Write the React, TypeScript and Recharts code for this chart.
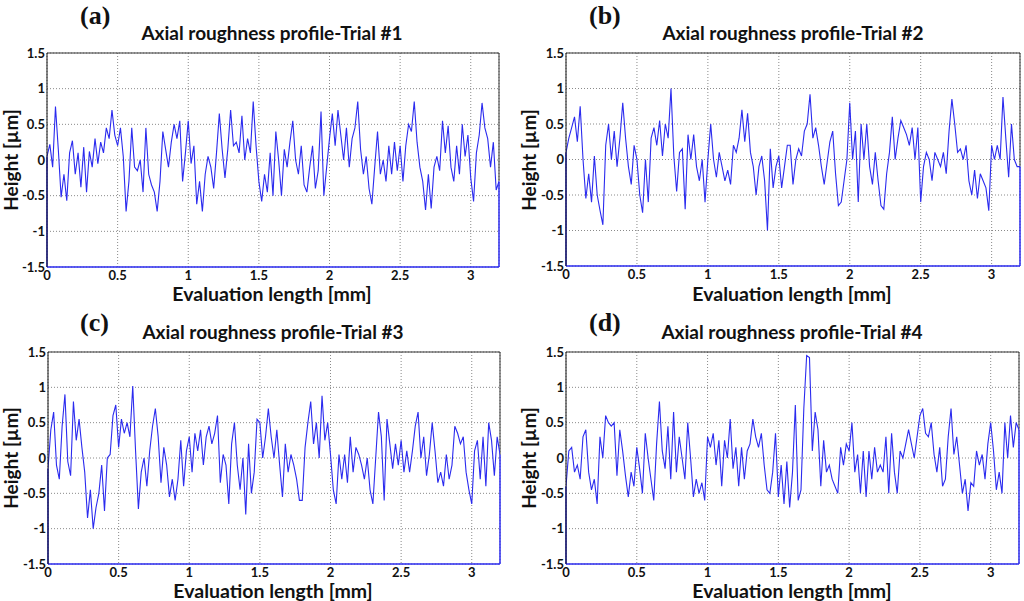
import React from 'react';
import { LineChart, Line, XAxis, YAxis, CartesianGrid, ReferenceLine } from 'recharts';

// ---- data ----
const SAMPLE_STEP_MM = 0.02;
const X_TICKS = [0, 0.5, 1, 1.5, 2, 2.5, 3];
const Y_TICKS = [-1.5, -1, -0.5, 0, 0.5, 1, 1.5];
const X_DOMAIN: [number, number] = [0, 3.2];
const Y_DOMAIN: [number, number] = [-1.5, 1.5];
const PANEL_TAGS = ['(a)', '(b)', '(c)', '(d)'];
const TITLES = [
  'Axial roughness profile-Trial #1',
  'Axial roughness profile-Trial #2',
  'Axial roughness profile-Trial #3',
  'Axial roughness profile-Trial #4',
];
const X_LABEL = 'Evaluation length [mm]';
const Y_LABEL = 'Height [µm]';

const trial1 = [
  0.05, 0.22, -0.1, 0.75, 0.15, -0.52, -0.2, -0.57, 0.1, 0.27,
  -0.2, 0.1, -0.38, 0.18, -0.45, 0.12, -0.1, 0.3, -0.05, 0.25,
  0.1, 0.45, 0.3, 0.7, 0.35, 0.2, 0.45, 0.05, -0.72, -0.3,
  0.45, -0.1, -0.15, 0.0, -0.45, 0.45, -0.2, -0.35, -0.45, -0.72,
  -0.3, 0.4, 0.15, -0.1, 0.25, 0.5, 0.3, 0.55, -0.3, 0.1,
  0.55, -0.05, 0.2, -0.62, -0.3, -0.72, -0.2, 0.05, -0.1, -0.4,
  0.1, 0.65, 0.15, -0.25, 0.15, 0.7, 0.2, 0.25, 0.1, 0.62,
  0.0, 0.3, 0.1, 0.82, 0.2, -0.3, -0.58, -0.2, -0.45, 0.1,
  -0.5, 0.4, 0.0, -0.5, 0.15, -0.1, 0.25, 0.55, 0.0, -0.2,
  0.2, -0.35, -0.45, -0.1, 0.2, -0.4, -0.15, 0.68, -0.5, -0.1,
  0.3, 0.65, 0.2, 0.7, 0.35, 0.0, 0.45, -0.1, 0.3, 0.45,
  0.82, 0.15, -0.2, 0.05, -0.4, -0.62, -0.1, 0.4, -0.2, 0.0,
  -0.3, 0.2, -0.2, 0.25, -0.15, 0.2, -0.3, 0.2, 0.5, 0.4,
  0.82, 0.25, -0.1, -0.3, -0.7, -0.2, -0.68, -0.1, 0.05, -0.15,
  0.55, 0.1, 0.48, -0.1, -0.3, 0.2, -0.2, 0.5, 0.05, 0.35,
  -0.25, -0.58, 0.1, 0.35, 0.8, 0.45, 0.3, -0.1, 0.25, -0.42,
  -0.3,
];

const trial2 = [
  0.1, 0.3, 0.45, 0.6, 0.25, 0.75, 0.0, -0.55, -0.2, -0.6,
  0.05, -0.5, -0.72, -0.92, 0.2, 0.5, 0.0, 0.4, -0.1, 0.3,
  0.8, 0.3, -0.1, -0.35, 0.2, 0.0, -0.5, -0.75, 0.0, -0.6,
  0.3, 0.45, 0.2, 0.55, 0.05, 0.5, 0.3, 1.0, 0.05, -0.45,
  0.1, 0.15, -0.7, 0.35, 0.0, 0.35, -0.1, -0.3, 0.0, -0.6,
  0.0, 0.5, 0.0, -0.25, 0.1, -0.1, -0.3, -0.15, -0.35, 0.2,
  0.1, 0.3, 0.7, 0.25, 0.65, 0.1, -0.1, -0.5, -0.1, 0.05,
  -0.3, -1.0, 0.15, -0.4, -0.1, 0.05, -0.4, -0.1, 0.2, 0.2,
  -0.35, 0.0, 0.15, 0.05, 0.4, 0.5, 0.92, 0.3, 0.45, 0.2,
  -0.1, -0.35, -0.05, 0.25, 0.4, -0.2, -0.65, -0.6, -0.3, 0.0,
  0.8, 0.0, 0.4, -0.6, 0.5, 0.0, 0.5, -0.1, -0.35, 0.1,
  -0.3, -0.65, -0.7, -0.2, 0.1, 0.6, 0.0, 0.3, 0.55, 0.45,
  0.35, 0.2, 0.45, 0.0, 0.45, -0.6, -0.1, 0.1, 0.0, -0.3,
  0.1, 0.0, -0.1, 0.1, -0.2, 0.4, 0.85, 0.5, 0.1, 0.15,
  0.0, 0.2, -0.3, -0.5, -0.15, -0.55, -0.2, -0.3, -0.4, -0.72,
  0.2, 0.0, 0.2, 0.0, 0.88, 0.3, -0.25, 0.5, 0.0, -0.1,
  -0.1,
];

const trial3 = [
  -0.15, 0.4, 0.65, -0.1, -0.3, 0.45, 0.9, -0.05, -0.25, 0.8,
  0.25, 0.55, 0.15, -0.2, -0.85, -0.45, -1.0, -0.7, -0.5, -0.1,
  -0.75, 0.0, 0.05, 0.6, 0.75, 0.15, 0.55, 0.35, 0.5, 0.3,
  1.02, 0.1, -0.72, -0.2, 0.0, -0.4, 0.1, 0.45, 0.7, 0.3,
  -0.35, 0.15, -0.1, -0.55, -0.3, -0.6, -0.3, 0.25, -0.4, 0.1,
  0.3, -0.2, 0.35, 0.1, 0.4, -0.1, 0.3, 0.45, 0.2, 0.35,
  0.6, -0.35, 0.05, -0.1, -0.65, 0.2, 0.5, -0.1, -0.45, 0.0,
  -0.8, 0.2, -0.5, -0.2, 0.55, 0.5, 0.0, 0.3, 0.7, 0.3,
  0.0, 0.4, -0.1, -0.55, 0.2, -0.2, 0.05, -0.1, -0.3, -0.6,
  -0.6, 0.15, 0.5, 0.8, 0.2, 0.5, 0.0, 0.88, 0.25, 0.5,
  0.05, -0.45, -0.65, 0.05, -0.3, 0.05, -0.35, 0.3, -0.2, 0.15,
  0.05, -0.1, -0.3, 0.0, -0.45, -0.65, 0.0, 0.65, 0.3, -0.6,
  0.55, 0.2, -0.15, 0.2, -0.1, 0.25, -0.2, 0.1, -0.2, 0.1,
  0.45, 0.65, 0.0, 0.3, -0.25, 0.05, 0.5, 0.1, -0.35, -0.2,
  -0.4, 0.05, -0.3, -0.1, 0.45, 0.35, 0.2, 0.3, -0.2, -0.45,
  -0.65, 0.1, 0.25, -0.3, 0.3, -0.4, 0.5, 0.25, -0.25, 0.3,
  0.05,
];

const trial4 = [
  -0.4, 0.1, 0.15, -0.2, -0.1, -0.3, 0.3, 0.4, -0.2, -0.45,
  -0.3, -0.65, 0.3, 0.0, 0.6, 0.5, 0.45, 0.5, -0.25, 0.4,
  0.1, -0.25, -0.55, -0.2, -0.4, 0.15, -0.15, -0.5, 0.35, 0.0,
  -0.3, -0.6, 0.2, 0.8, 0.1, -0.15, 0.45, -0.3, 0.65, -0.2,
  0.3, 0.0, -0.3, 0.5, 0.0, -0.55, -0.3, -0.5, -0.35, -0.6,
  0.3, 0.15, 0.35, -0.1, 0.25, -0.4, 0.25, 0.0, 0.55, -0.15,
  0.15, -0.4, 0.15, -0.3, 0.1, 0.2, 0.55, 0.3, 0.15, 0.35,
  -0.1, -0.45, -0.5, -0.2, 0.35, -0.55, -0.1, -0.65, -0.05, -0.7,
  -0.2, 0.75, -0.6, -0.45, 0.7, 1.45, 1.42, 0.1, 0.65, 0.4,
  -0.4, 0.25, -0.2, -0.1, -0.3, -0.4, -0.5, 0.15, -0.1, 0.2,
  0.1, 0.5, -0.2, 0.05, -0.5, 0.1, -0.55, 0.1, -0.3, 0.15,
  -0.2, -0.1, -0.2, 0.3, -0.5, 0.35, -0.2, -0.5, 0.1, 0.0,
  0.2, 0.4, 0.2, 0.0, 0.3, 0.6, 0.7, 0.35, 0.3, 0.5,
  0.05, -0.2, 0.15, -0.4, -0.3, 0.3, 0.7, 0.05, 0.3, -0.1,
  -0.5, -0.3, -0.75, -0.35, -0.4, 0.1, -0.1, 0.05, -0.3, 0.2,
  0.5, 0.1, -0.45, -0.2, -0.5, 0.5, 0.0, 0.6, 0.15, 0.5,
  0.4,
];

const SERIES = [trial1, trial2, trial3, trial4];

// ---- layout (page pixel positions) ----
const LAYOUTS = [
  { x0: 0, y0: 0, l: 47, t: 53, r: 499, b: 267, tag: [80, 2], title: [272, 33], xl: [272, 294], yl: [11, 160] },
  { x0: 512, y0: 0, l: 566, t: 53, r: 1020, b: 266, tag: [589, 2], title: [793, 33], xl: [792, 294], yl: [529, 160] },
  { x0: 0, y0: 300, l: 48, t: 352, r: 500, b: 564, tag: [80, 309], title: [273, 332], xl: [273, 591], yl: [11, 458] },
  { x0: 512, y0: 300, l: 566, t: 352, r: 1019, b: 564, tag: [589, 309], title: [792, 332], xl: [792, 591], yl: [529, 458] },
];

const LINE_COLOR = '#2b2bef';
const SANS = 'Lato, "Open Sans", sans-serif';
const tickStyle = { fill: '#111', fontSize: 13, fontWeight: 700, fontFamily: SANS };

const buildRows = (vals: number[]) =>
  vals.map((h, i) => ({ x: Math.round(i * SAMPLE_STEP_MM * 100) / 100, h }));

function Panel({ idx }: { idx: number }) {
  const L = LAYOUTS[idx];
  const vals = SERIES[idx];
  const data = buildRows(vals);
  const first = vals[0];
  const last = vals[vals.length - 1];
  const W = 512;
  const H = 300;
  const centered: React.CSSProperties = {
    position: 'absolute',
    transform: 'translate(-50%, -50%)',
    whiteSpace: 'nowrap',
    fontFamily: SANS,
    fontWeight: 700,
    color: '#111',
    lineHeight: 0.8,
  };
  return (
    <>
      <div style={{ position: 'absolute', left: L.x0, top: L.y0 }}>
        <LineChart
          width={W}
          height={H}
          data={data}
          margin={{ top: L.t - L.y0, right: L.x0 + W - L.r, left: 0, bottom: 0 }}
        >
          <CartesianGrid stroke="#8a8a8a" strokeDasharray="1 2" />
          <XAxis
            dataKey="x"
            type="number"
            domain={X_DOMAIN}
            ticks={X_TICKS}
            allowDataOverflow
            height={L.y0 + H - L.b}
            tickLine={false}
            tickSize={0}
            tickMargin={4}
            axisLine={{ stroke: LINE_COLOR, strokeWidth: 1.5 }}
            tick={tickStyle}
            interval={0}
          />
          <YAxis
            type="number"
            domain={Y_DOMAIN}
            ticks={Y_TICKS}
            allowDataOverflow
            width={L.l - L.x0}
            tickLine={false}
            tickSize={0}
            tickMargin={2}
            axisLine={{ stroke: '#111', strokeWidth: 1 }}
            tick={tickStyle}
            interval={0}
          />
          <ReferenceLine segment={[{ x: 0, y: 1.5 }, { x: 3.2, y: 1.5 }]} stroke="#333" strokeWidth={1} />
          <ReferenceLine segment={[{ x: 3.2, y: last }, { x: 3.2, y: 1.5 }]} stroke="#333" strokeWidth={1} />
          <ReferenceLine segment={[{ x: 3.2, y: -1.5 }, { x: 3.2, y: last }]} stroke={LINE_COLOR} strokeWidth={1.5} />
          <ReferenceLine segment={[{ x: 0, y: -1.5 }, { x: 0, y: first }]} stroke={LINE_COLOR} strokeWidth={1.5} />
          <Line
            type="linear"
            dataKey="h"
            stroke={LINE_COLOR}
            strokeWidth={1.1}
            dot={false}
            isAnimationActive={false}
          />
        </LineChart>
      </div>
      <div
        style={{
          position: 'absolute',
          left: L.tag[0],
          top: L.tag[1],
          fontFamily: '"Liberation Serif", "Times New Roman", serif',
          fontWeight: 700,
          fontSize: 26,
          lineHeight: 1.1,
          color: '#111',
        }}
      >
        {PANEL_TAGS[idx]}
      </div>
      <div style={{ ...centered, left: L.title[0], top: L.title[1], fontSize: 19 }}>{TITLES[idx]}</div>
      <div style={{ ...centered, left: L.xl[0], top: L.xl[1], fontSize: 19.5 }}>{X_LABEL}</div>
      <div
        style={{
          ...centered,
          left: L.yl[0],
          top: L.yl[1],
          fontSize: 19,
          transform: 'translate(-50%, -50%) rotate(-90deg)',
        }}
      >
        {Y_LABEL}
      </div>
    </>
  );
}

export default function App() {
  return (
    <div
      style={{
        position: 'absolute',
        left: 0,
        top: 0,
        width: 1024,
        height: 601,
        background: '#fff',
        overflow: 'hidden',
      }}
    >
      {[0, 1, 2, 3].map((i) => (
        <Panel key={i} idx={i} />
      ))}
    </div>
  );
}
